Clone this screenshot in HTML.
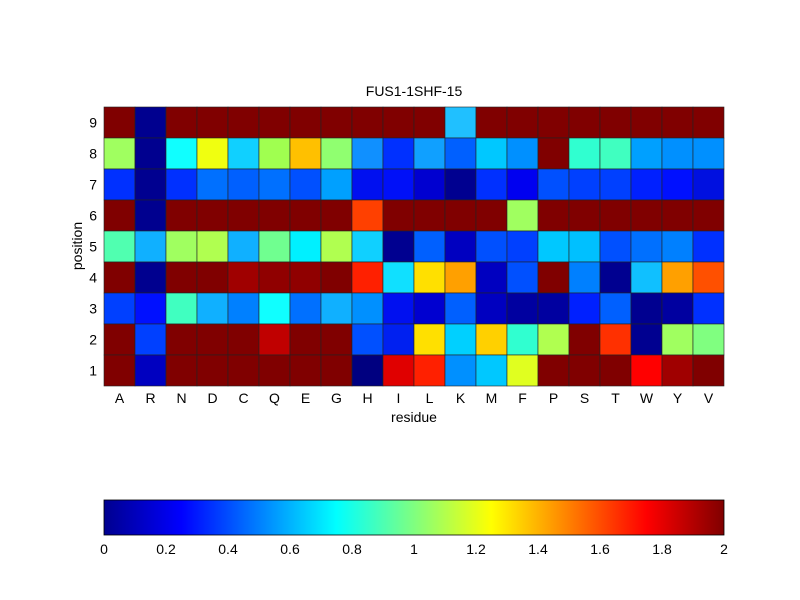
<!DOCTYPE html>
<html><head><meta charset="utf-8"><style>body{margin:0;background:#fff}svg{display:block}text{font-family:"Liberation Sans",sans-serif;font-size:14px;fill:#000}</style></head>
<body>
<svg width="800" height="600" xmlns="http://www.w3.org/2000/svg">
<defs><linearGradient id="jet" x1="0" x2="1" y1="0" y2="0">
<stop offset="0" stop-color="#00008f"/><stop offset="0.125" stop-color="#0000ff"/><stop offset="0.375" stop-color="#00ffff"/><stop offset="0.625" stop-color="#ffff00"/><stop offset="0.875" stop-color="#ff0000"/><stop offset="1" stop-color="#800000"/></linearGradient></defs>
<rect width="800" height="600" fill="#fff"/>
<g id="grid" stroke="#222" stroke-width="0.6"></g>
<text x="414" y="96" text-anchor="middle">FUS1-1SHF-15</text>
<g id="labels"></g>
<text x="414" y="422" text-anchor="middle">residue</text>
<text transform="translate(82,246) rotate(-90)" text-anchor="middle">position</text>
<rect x="104" y="500" width="620" height="35" fill="url(#jet)" stroke="#000" stroke-width="0.8"/>
<g id="cb"></g>
<script>
var D="#800000",N="#00008f";
var rows=[
[D,N,D,D,D,D,D,D,D,D,D,"#20c0ff",D,D,D,D,D,D,D,D],
["#a0ff60",N,"#10ffff","#f0ff10","#10d0ff","#a0ff50","#ffc000","#90ff70","#1090ff","#0030ff","#10a0ff","#0060ff","#00c8ff","#0090ff",D,"#30ffd0","#40ffc0","#00a0ff","#0090ff","#0090ff"],
["#0030ff","#000090","#0030ff","#0070ff","#0060ff","#0070ff","#0050ff","#00a0ff","#0010f0","#0010f8","#0000d0","#000090","#0030ff","#0000f0","#0050ff","#0040ff","#0040ff","#0020ff","#0010ff","#0010e0"],
[D,N,D,D,D,D,D,D,"#ff4000",D,D,D,D,"#a0ff60",D,D,D,D,D,D],
["#50ffb0","#10b0ff","#a0ff60","#b0ff50","#10b0ff","#70ff90","#00f0ff","#b0ff50","#10d0ff","#000090","#0060ff","#0000c0","#0050ff","#0040ff","#00c8ff","#00c0ff","#0050ff","#0070ff","#0080ff","#0030ff"],
[D,N,D,D,"#a00000","#900000","#900000",D,"#ff2000","#10e0ff","#ffe000","#ffa000","#0000c0","#0050ff",D,"#0080ff","#000090","#10c0ff","#ffa000","#ff5000"],
["#0040ff","#0010ff","#40ffc0","#10b0ff","#0080ff","#10ffff","#0070ff","#10b0ff","#0090ff","#0010f0","#0000d0","#0060ff","#0000c0","#0000a0","#0000a0","#0020ff","#0060ff","#000090","#0000a0","#0030ff"],
[D,"#0040ff",D,D,D,"#c00000",D,D,"#0050ff","#0020f0","#ffe000","#00d0ff","#ffd000","#30ffd0","#b0ff50",D,"#ff3000","#000090","#a0ff60","#80ff80"],
[D,"#0000c0",D,D,D,D,D,D,"#000080","#e00000","#ff2000","#0090ff","#00c8ff","#e0ff20",D,D,D,"#ff0000","#a00000",D]];
var res="ARNDCQEGHILKMFPSTWYV".split("");
var ns="http://www.w3.org/2000/svg",g=document.getElementById("grid"),L=document.getElementById("labels");
function el(t,a,p,txt){var e=document.createElementNS(ns,t);for(var k in a)e.setAttribute(k,a[k]);if(txt!=null)e.textContent=txt;p.appendChild(e);return e;}
for(var r=0;r<9;r++)for(var c=0;c<20;c++)el("rect",{x:104+c*31,y:107+r*31,width:31,height:31,fill:rows[r][c]},g);
for(var c=0;c<20;c++)el("text",{x:119.5+c*31,y:403,"text-anchor":"middle"},L,res[c]);
for(var r=0;r<9;r++)el("text",{x:97,y:127.5+r*31,"text-anchor":"end"},L,String(9-r));
var cb=document.getElementById("cb");
for(var i=0;i<=10;i++){var x=104+i*62;el("text",{x:x,y:554,"text-anchor":"middle"},cb,(i*0.2).toFixed(1).replace(/\.0$/,""));}
</script>
</svg>
</body></html>
